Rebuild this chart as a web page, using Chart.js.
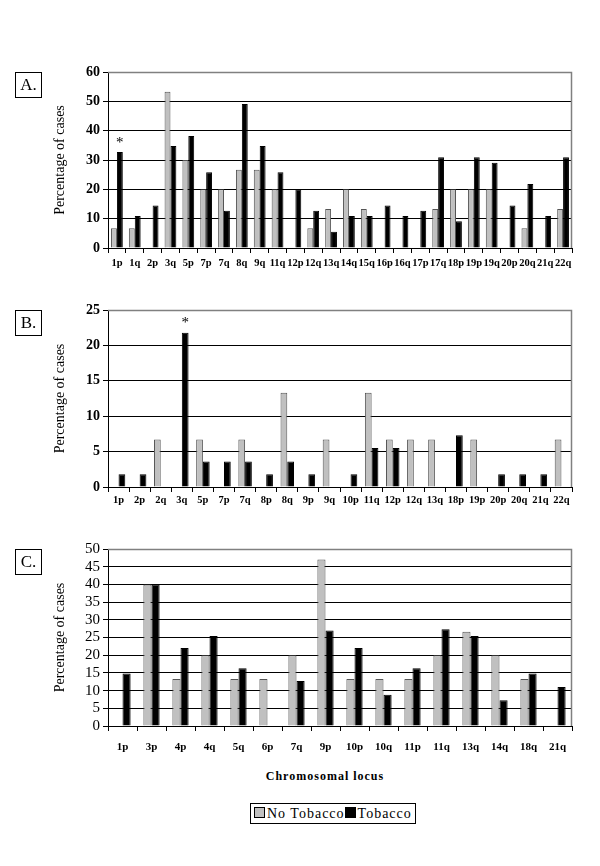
<!DOCTYPE html>
<html>
<head>
<meta charset="utf-8">
<script src="https://cdn.jsdelivr.net/npm/chart.js@4.4.1/dist/chart.umd.min.js"></script>
<style>
  body { margin: 0; background: #fff; width: 600px; height: 866px; position: relative; overflow: hidden; }
  .wrap { position: absolute; left: 0; width: 600px; }
  .tag { position: absolute; left: 15px; width: 25px; height: 24px; border: 1px solid #000;
         font: 17px "Liberation Serif", serif; line-height: 24px; text-align: center; }
  #xtitle { position: absolute; top: 769px; left: 0; width: 650px; text-align: center;
            font: bold 12px "Liberation Serif", serif; letter-spacing: 1px; }
  #legend { position: absolute; top: 803px; left: 250px; height: 19px; padding: 0 3px;
            border: 1px solid #000; font: 14px "Liberation Serif", serif; letter-spacing: 1px;
            line-height: 19px; white-space: nowrap; }
  .sw { display: inline-block; width: 9px; height: 9px; border: 1px solid #000; margin-right: 2px; vertical-align: 0px; }
</style>
</head>
<body>
<div class="wrap" style="top:50px;height:230px"><canvas id="chartA"></canvas></div>
<div class="wrap" style="top:288px;height:220px"><canvas id="chartB"></canvas></div>
<div class="wrap" style="top:527px;height:230px"><canvas id="chartC"></canvas></div>
<div class="tag" style="top:72px">A.</div>
<div class="tag" style="top:310px">B.</div>
<div class="tag" style="top:549px">C.</div>
<div id="xtitle">Chromosomal locus</div>
<div id="legend"><span class="sw" style="background:#c0c0c0"></span>No Tobacco<span class="sw" style="background:#000"></span>Tobacco</div>
<script>
// Panel A
const lociA = ['1p', '1q', '2p', '3q', '5p', '7p', '7q', '8q', '9q', '11q', '12p', '12q', '13q',
               '14q', '15q', '16p', '16q', '17p', '17q', '18p', '19p', '19q', '20p', '20q', '21q', '22q'];
const noTobaccoA = [6.7, 6.7, 0, 53.3, 30, 20, 20, 26.7, 26.7, 20, 0, 6.7, 13.3,
                    20, 13.3, 0, 0, 0, 13.3, 20, 20, 20, 0, 6.7, 0, 13.3];
const tobaccoA = [32.7, 10.9, 14.5, 34.8, 38.2, 25.8, 12.7, 49.1, 34.8, 25.8, 20, 12.7, 5.5,
                  10.9, 10.9, 14.5, 10.9, 12.7, 30.9, 9.1, 30.9, 29.1, 14.5, 21.8, 10.9, 30.9];

// Panel B
const lociB = ['1p', '2p', '2q', '3q', '5p', '7p', '7q', '8p', '8q', '9p', '9q',
               '10p', '11q', '12p', '12q', '13q', '18p', '19p', '20p', '20q', '21q', '22q'];
const noTobaccoB = [0, 0, 6.7, 0, 6.7, 0, 6.7, 0, 13.3, 0, 6.7,
                    0, 13.3, 6.7, 6.7, 6.7, 0, 6.7, 0, 0, 0, 6.7];
const tobaccoB = [1.8, 1.8, 0, 21.8, 3.6, 3.6, 3.6, 1.8, 3.6, 1.8, 0,
                  1.8, 5.5, 5.5, 0, 0, 7.3, 0, 1.8, 1.8, 1.8, 0];

// Panel C
const lociC = ['1p', '3p', '4p', '4q', '5q', '6p', '7q', '9p', '10p', '10q', '11p', '11q', '13q', '14q', '18q', '21q'];
const noTobaccoC = [0, 40, 13.3, 20, 13.3, 13.3, 20, 47, 13.3, 13.3, 13.3, 20, 26.6, 20, 13.3, 0];
const tobaccoC = [14.8, 40, 22, 25.4, 16.3, 0, 12.7, 27, 22, 8.8, 16.3, 27.3, 25.4, 7.3, 14.8, 11];

const serif = '"Liberation Serif", "Times New Roman", serif';

// frame on top/right of the plot area + asterisks over significant bars
const extras = {
    id: 'extras',
    afterDraw(chart, args, opts) {
        const a = chart.chartArea, ctx = chart.ctx;
        ctx.save();
        ctx.strokeStyle = '#808080';
        ctx.lineWidth = 1.5;
        ctx.beginPath();
        ctx.moveTo(a.left, a.top + 0.5);
        ctx.lineTo(a.right - 0.5, a.top + 0.5);
        ctx.lineTo(a.right - 0.5, a.bottom);
        ctx.stroke();
        if (opts.star != null) {
            const bar = chart.getDatasetMeta(1).data[opts.star];
            ctx.fillStyle = '#000';
            ctx.font = '15px ' + serif;
            ctx.textAlign = 'center';
            ctx.textBaseline = 'bottom';
            ctx.fillText('*', bar.x, bar.y - 2);
        }
        ctx.restore();
    }
};

function makeChart(id, labels, noTob, tob, max, step, cfg) {
    new Chart(document.getElementById(id), {
        type: 'bar',
        data: {
            labels: labels,
            datasets: [
                { label: 'No Tobacco', data: noTob, backgroundColor: '#c0c0c0', borderColor: '#555', borderWidth: 1 },
                { label: 'Tobacco', data: tob, backgroundColor: '#000', borderColor: '#000', borderWidth: 1 }
            ]
        },
        options: {
            responsive: true,
            maintainAspectRatio: false,
            animation: false,
            categoryPercentage: cfg.cat,
            barPercentage: 1,
            layout: { padding: { left: 52, right: 28, top: cfg.top, bottom: 0 } },
            plugins: { legend: { display: false }, tooltip: { enabled: false }, extras: { star: cfg.star } },
            scales: {
                x: {
                    grid: { offset: true, drawOnChartArea: false, drawTicks: true, tickLength: 5, color: '#000' },
                    border: { color: '#000', width: 1 },
                    ticks: { autoSkip: false, maxRotation: 0, minRotation: 0, padding: cfg.xpad, color: '#000',
                             font: { family: serif, weight: 'bold', size: cfg.xsize } },
                    afterFit: s => { s.height = cfg.xh; }
                },
                y: {
                    min: 0, max: max,
                    grid: { color: '#000', tickLength: 5, lineWidth: 1 },
                    border: { color: '#000', width: 1 },
                    ticks: { stepSize: step, autoSkip: false, padding: 3, color: '#000',
                             font: { family: serif, weight: cfg.yweight, size: cfg.ysize } },
                    title: { display: true, text: 'Percentage of cases', color: '#000', padding: 0,
                             font: { family: serif, size: 14 } },
                    afterFit: s => { s.width = 56; }
                }
            }
        },
        plugins: [extras]
    });
}

makeChart('chartA', lociA, noTobaccoA, tobaccoA, 60, 10,
          { cat: 0.66, top: 22, xh: 32, xpad: 4, xsize: 10.5, ysize: 14, yweight: 'bold', star: 0 });
makeChart('chartB', lociB, noTobaccoB, tobaccoB, 25, 5,
          { cat: 0.64, top: 22, xh: 21, xpad: 2, xsize: 10.5, ysize: 14, yweight: 'bold', star: 3 });
makeChart('chartC', lociC, noTobaccoC, tobaccoC, 50, 5,
          { cat: 0.56, top: 22, xh: 31, xpad: 10, xsize: 11, ysize: 15, yweight: 'normal', star: null });
</script>
</body>
</html>
